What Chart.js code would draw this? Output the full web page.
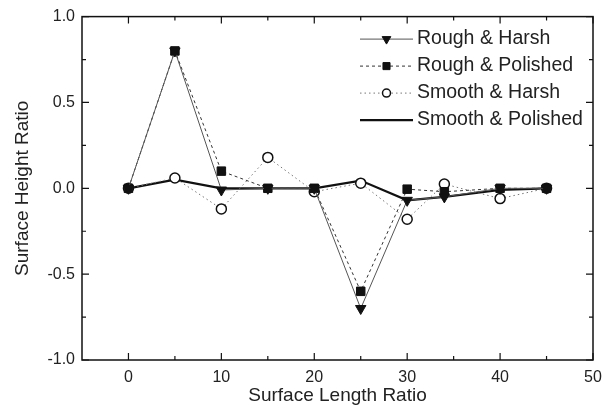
<!DOCTYPE html>
<html lang="en">
<head>
  <meta charset="UTF-8" />
  <title>Surface Height Ratio</title>
  <script src="https://cdn.jsdelivr.net/npm/chart.js"></script>
  <style>
    * { margin: 0; padding: 0; box-sizing: border-box; }
    body { background: #fff; width: 611px; height: 416px; overflow: hidden; }
  </style>
</head>
<body>
  <canvas id="chart" width="611" height="416"></canvas>

  <script>
    // data
    const lengthRatio = [0, 5, 10, 15, 20, 25, 30, 34, 40, 45];
    const roughHarsh = [0, 0.80, -0.01, 0, 0, -0.70, -0.07, -0.05, 0, 0];
    const roughPolished = [0, 0.80, 0.10, 0, 0, -0.60, -0.005, -0.02, 0, 0];
    const smoothHarsh = [0, 0.06, -0.12, 0.18, -0.02, 0.03, -0.18, 0.025, -0.06, 0];
    const smoothPolished = [0, 0.05, 0, 0, 0, 0.045, -0.07, -0.05, -0.01, 0];

    const xTicks = [0, 10, 20, 30, 40, 50];
    const xMinor = [5, 15, 25, 35, 45];
    const yTicks = [-1.0, -0.5, 0, 0.5, 1.0];
    const yMinor = [-0.75, -0.25, 0.25, 0.75];

    const FONT = "'Liberation Sans', Arial, sans-serif";
    const TXT = '#222';

    const pts = ys => ys.map((y, i) => ({ x: lengthRatio[i], y }));

    // frame, inward ticks and line+marker legend
    const framePlugin = {
      id: 'frame',
      afterDraw(chart) {
        const { ctx, chartArea: a, scales: { x, y } } = chart;
        ctx.save();
        ctx.strokeStyle = '#111';
        ctx.lineWidth = 1.5;
        ctx.strokeRect(a.left, a.top, a.right - a.left, a.bottom - a.top);

        ctx.lineWidth = 1.2;
        const tickX = (v, len) => {
          const px = x.getPixelForValue(v);
          ctx.beginPath();
          ctx.moveTo(px, a.bottom); ctx.lineTo(px, a.bottom - len);
          ctx.moveTo(px, a.top); ctx.lineTo(px, a.top + len);
          ctx.stroke();
        };
        const tickY = (v, len) => {
          const py = y.getPixelForValue(v);
          ctx.beginPath();
          ctx.moveTo(a.left, py); ctx.lineTo(a.left + len, py);
          ctx.moveTo(a.right, py); ctx.lineTo(a.right - len, py);
          ctx.stroke();
        };
        xTicks.forEach(v => tickX(v, 7));
        xMinor.forEach(v => tickX(v, 4));
        yTicks.forEach(v => tickY(v, 7));
        yMinor.forEach(v => tickY(v, 4));

        // legend
        const x0 = a.right - 233, x1 = a.right - 180, tx = a.right - 176;
        ctx.font = '19.5px ' + FONT;
        ctx.textBaseline = 'middle';
        chart.data.datasets.forEach((ds, i) => {
          const ly = a.top + 22.5 + i * 27;
          ctx.save();
          ctx.strokeStyle = ds.borderColor;
          ctx.lineWidth = ds.borderWidth;
          ctx.setLineDash(ds.borderDash || []);
          ctx.beginPath();
          ctx.moveTo(x0, ly); ctx.lineTo(x1, ly);
          ctx.stroke();
          ctx.restore();
          if (ds.pointRadius > 0) {
            ctx.save();
            ctx.fillStyle = ds.pointBackgroundColor;
            ctx.strokeStyle = ds.pointBorderColor;
            ctx.lineWidth = ds.pointBorderWidth;
            Chart.helpers.drawPoint(ctx, {
              pointStyle: ds.pointStyle, rotation: ds.pointRotation || 0,
              radius: ds.pointRadius - 1, borderWidth: ds.pointBorderWidth
            }, (x0 + x1) / 2, ly);
            ctx.restore();
          }
          ctx.fillStyle = TXT;
          ctx.fillText(ds.label, tx, ly);
        });
        ctx.restore();
      }
    };

    new Chart(document.getElementById('chart'), {
      type: 'line',
      data: {
        datasets: [
          {
            label: 'Rough & Harsh',
            data: pts(roughHarsh),
            borderColor: '#555', borderWidth: 1,
            pointStyle: 'triangle', pointRotation: 180, pointRadius: 6,
            pointBackgroundColor: '#111', pointBorderColor: '#111', pointBorderWidth: 1
          },
          {
            label: 'Rough & Polished',
            data: pts(roughPolished),
            borderColor: '#333', borderWidth: 1, borderDash: [3, 3],
            pointStyle: 'rect', pointRadius: 6,
            pointBackgroundColor: '#111', pointBorderColor: '#111', pointBorderWidth: 1
          },
          {
            label: 'Smooth & Harsh',
            data: pts(smoothHarsh),
            borderColor: '#777', borderWidth: 1, borderDash: [1.5, 3],
            pointStyle: 'circle', pointRadius: 5,
            pointBackgroundColor: '#fff', pointBorderColor: '#111', pointBorderWidth: 1.5
          },
          {
            label: 'Smooth & Polished',
            data: pts(smoothPolished),
            borderColor: '#111', borderWidth: 2.2,
            pointRadius: 0
          }
        ]
      },
      options: {
        responsive: false,
        animation: false,
        layout: { padding: { top: 15, right: 18, left: 0, bottom: 0 } },
        plugins: { legend: { display: false }, tooltip: { enabled: false } },
        scales: {
          x: {
            type: 'linear', min: -5, max: 50,
            afterFit: s => { s.height = 56; },
            afterBuildTicks: s => { s.ticks = xTicks.map(v => ({ value: v })); },
            grid: { display: false, drawTicks: false },
            border: { display: false },
            ticks: { color: TXT, font: { family: FONT, size: 16 }, padding: 8, maxRotation: 0 },
            title: {
              display: true, text: 'Surface Length Ratio', color: TXT,
              font: { family: FONT, size: 19 }, padding: { top: 0, bottom: 9 }
            }
          },
          y: {
            min: -1, max: 1,
            afterFit: s => { s.width = 82; },
            afterBuildTicks: s => { s.ticks = yTicks.map(v => ({ value: v })); },
            grid: { display: false, drawTicks: false },
            border: { display: false },
            ticks: {
              color: TXT, font: { family: FONT, size: 16 }, padding: 7,
              callback: v => v.toFixed(1)
            },
            title: {
              display: true, text: 'Surface Height Ratio', color: TXT,
              font: { family: FONT, size: 19 }, padding: { top: 11, bottom: 0 }
            }
          }
        }
      },
      plugins: [framePlugin]
    });
  </script>
</body>
</html>
